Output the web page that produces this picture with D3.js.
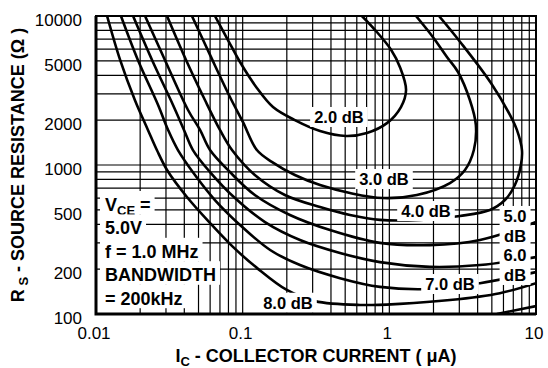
<!DOCTYPE html>
<html>
<head>
<meta charset="utf-8">
<script src="https://cdn.jsdelivr.net/npm/d3@7"></script>
<style>
body { margin: 0; background: #fff; }
text { font-family: "Liberation Sans", Arial, sans-serif; fill: #000; }
</style>
</head>
<body>
<div id="chart"></div>
<script>
// Data: noise figure contours, [Ic (uA), Rs (ohm)]
const xTicks = [0.01, 0.1, 1, 10];
const yTicks = [100, 200, 500, 1000, 2000, 5000, 10000];

const nf2 = [[0.0647, 10000], [0.0794, 6900], [0.0959, 4910], [0.125, 3290], [0.161, 2450], [0.227, 2000],
    [0.337, 1690], [0.506, 1565], [0.703, 1640], [0.963, 1910], [1.20, 2450], [1.30, 3190], [1.18, 4550],
    [1.03, 5920], [0.80, 8050], [0.65, 10000]];
const nf3 = [[0.0451, 10000], [0.0599, 5480], [0.0819, 2860], [0.1005, 1940], [0.125, 1260], [0.158, 1050],
    [0.227, 857], [0.337, 734], [0.539, 649], [0.905, 600], [1.54, 629], [2.59, 757], [3.28, 926],
    [3.77, 1260], [3.89, 1860], [3.54, 2730], [2.94, 4210], [2.47, 5310], [1.98, 7230], [1.52, 10000]];
const nf4 = [[0.0305, 10000], [0.0411, 5070], [0.0553, 2730], [0.0700, 1720], [0.0846, 1260], [0.121, 857],
    [0.194, 629], [0.337, 522], [0.539, 462], [0.863, 428], [1.62, 428], [3.03, 455], [4.85, 499],
    [6.14, 582], [7.18, 734], [7.89, 1000], [8.02, 1260], [7.41, 1720], [6.64, 2170], [4.93, 3550],
    [3.08, 6590], [2.18, 10000]];
const nf5 = [[0.0216, 10000], [0.0295, 5070], [0.0424, 2340], [0.0512, 1720], [0.0599, 1260], [0.0819, 897],
    [0.121, 629], [0.210, 462], [0.394, 366], [0.863, 300], [1.89, 290], [4.15, 314], [10, 414]];
const nf6 = [[0.0179, 10000], [0.0241, 5070], [0.0335, 2530], [0.0398, 1720], [0.0458, 1260], [0.0599, 897],
    [0.0886, 600], [0.142, 414], [0.246, 314], [0.461, 257], [0.863, 223], [1.89, 207], [4.15, 213], [10, 241]];
const nf7 = [[0.0148, 10000], [0.0193, 5070], [0.0265, 2530], [0.0310, 1720], [0.0362, 1260], [0.0473, 857],
    [0.0647, 582], [0.0959, 396], [0.154, 269], [0.246, 213], [0.461, 174], [0.863, 152], [1.89, 147],
    [4.15, 161], [10, 191]];
const nf8 = [[0.0119, 10000], [0.0146, 5070], [0.0184, 2730], [0.0226, 1720], [0.0260, 1260], [0.0305, 926],
    [0.0417, 610], [0.0599, 408], [0.0859, 282], [0.125, 204], [0.200, 145], [0.311, 122], [0.630, 115],
    [1.18, 117], [2.59, 124], [5.67, 138], [10, 161]];
const nfEdge = [[5.41, 100], [10, 113]];

const curves = [nf2, nf3, nf4, nf5, nf6, nf7, nf8, nfEdge];
const curveLabels = [["2.0 dB"], ["3.0 dB"], ["4.0 dB"], ["5.0", "dB"], ["6.0", "dB"], ["7.0 dB"], ["8.0 dB"]];
const labelAt = [[0.453, 2100], [0.919, 805], [1.777, 491], [7.2, 455], [7.2, 249], [2.59, 159], [0.2036, 119]];

const width = 548, height = 368;
const plotLeft = 96, plotRight = 536, plotTop = 16, plotBottom = 314;

const svg = d3.select("#chart")
    .append("svg")
    .attr("width", width)
    .attr("height", height);

const x = d3.scaleLog().domain([0.01, 10]).range([plotLeft, plotRight]);
const y = d3.scaleLog().domain([100, 10000]).range([plotBottom, plotTop]);

// grid
const xGrid = d3.range(-2, 1).flatMap(e => d3.range(1, 10).map(k => k * Math.pow(10, e))).concat([10]);
const yGrid = d3.range(2, 4).flatMap(e => d3.range(1, 10).map(k => k * Math.pow(10, e))).concat([10000]);

svg.append("g").selectAll("line")
    .data(xGrid)
    .enter().append("line")
    .attr("x1", d => x(d)).attr("x2", d => x(d))
    .attr("y1", plotTop).attr("y2", plotBottom)
    .attr("stroke", "#000").attr("stroke-width", 1.2);

svg.append("g").selectAll("line")
    .data(yGrid)
    .enter().append("line")
    .attr("x1", plotLeft).attr("x2", plotRight)
    .attr("y1", d => y(d)).attr("y2", d => y(d))
    .attr("stroke", "#000").attr("stroke-width", 1.2);

// contours
svg.append("clipPath").attr("id", "plot-clip")
    .append("rect")
    .attr("x", plotLeft).attr("y", plotTop)
    .attr("width", plotRight - plotLeft).attr("height", plotBottom - plotTop);

const line = d3.line()
    .x(d => x(d[0]))
    .y(d => y(d[1]))
    .curve(d3.curveCatmullRom.alpha(0.5));

svg.append("g")
    .attr("clip-path", "url(#plot-clip)")
    .selectAll("path")
    .data(curves)
    .enter().append("path")
    .attr("d", line)
    .attr("fill", "none")
    .attr("stroke", "#000")
    .attr("stroke-width", 2.6);

// contour labels
const labelGroups = svg.append("g").selectAll("g")
    .data(curveLabels)
    .enter().append("g")
    .attr("transform", (d, i) => `translate(${x(labelAt[i][0])},${y(labelAt[i][1])})`);

labelGroups.each(function (lines) {
    const g = d3.select(this);
    const bg = g.append("rect").attr("fill", "#fff");
    const t = g.append("text")
        .attr("text-anchor", "middle")
        .style("font-size", "16.5px")
        .style("font-weight", "bold");
    lines.forEach((s, j) => {
        t.append("tspan").attr("x", 0).attr("y", 6 + j * 20).text(s);
    });
    const b = t.node().getBBox();
    bg.attr("x", b.x - 4).attr("y", b.y - 1)
        .attr("width", b.width + 8).attr("height", b.height + 2);
});

// conditions box
const notes = [
    [["V", ""], ["CE", "sub"], [" =", ""]],
    [["5.0V", ""]],
    [["f = 1.0 MHz", ""]],
    [["BANDWIDTH", ""]],
    [["= 200kHz", ""]]
];
const noteG = svg.append("g");
notes.forEach((parts, i) => {
    const base = 211 + i * 23.4;
    const bg = noteG.append("rect").attr("fill", "#fff");
    const t = noteG.append("text")
        .attr("x", plotLeft + 9)
        .attr("y", base)
        .style("font-size", "18px")
        .style("font-weight", "bold");
    parts.forEach((p, j) => {
        const ts = t.append("tspan").text(p[0]);
        if (p[1] === "sub") ts.style("font-size", "13px").attr("dy", 4);
        else if (j > 0) ts.attr("dy", -4);
    });
    const b = t.node().getBBox();
    bg.attr("x", plotLeft + 4).attr("y", base - 20)
        .attr("width", b.x + b.width + 4 - (plotLeft + 4)).attr("height", 23.6);
});

// frame
svg.append("rect")
    .attr("x", plotLeft).attr("y", plotTop)
    .attr("width", plotRight - plotLeft).attr("height", plotBottom - plotTop)
    .attr("fill", "none").attr("stroke", "#000").attr("stroke-width", 2);
svg.append("path")
    .attr("d", `M${plotLeft},${plotTop}V${plotBottom}H${plotRight}`)
    .attr("fill", "none").attr("stroke", "#000").attr("stroke-width", 3);

// tick labels
svg.append("g").selectAll("text")
    .data(yTicks)
    .enter().append("text")
    .attr("x", 82)
    .attr("y", d => y(d) + 10)
    .attr("text-anchor", "end")
    .style("font-size", "17px")
    .text(d => d);

svg.append("g").selectAll("text")
    .data(xTicks)
    .enter().append("text")
    .attr("x", d => x(d) - 2)
    .attr("y", 339)
    .attr("text-anchor", "middle")
    .style("font-size", "17px")
    .text(d => d);

// axis titles
const xt = svg.append("text")
    .attr("x", 316).attr("y", 362)
    .attr("text-anchor", "middle")
    .style("font-size", "18px")
    .style("font-weight", "bold");
xt.append("tspan").text("I");
xt.append("tspan").text("C").style("font-size", "13px").attr("dy", 4);
xt.append("tspan").text(" - COLLECTOR CURRENT ( \u03BCA)").attr("dy", -4);

const yt = svg.append("text")
    .attr("transform", "translate(24,165) rotate(-90)")
    .attr("text-anchor", "middle")
    .style("font-size", "18px")
    .style("font-weight", "bold");
yt.append("tspan").text("R");
yt.append("tspan").text(" S").style("font-size", "13px").attr("dy", 4);
yt.append("tspan").text(" - SOURCE RESISTANCE (\u03A9 )").attr("dy", -4);
</script>
</body>
</html>
